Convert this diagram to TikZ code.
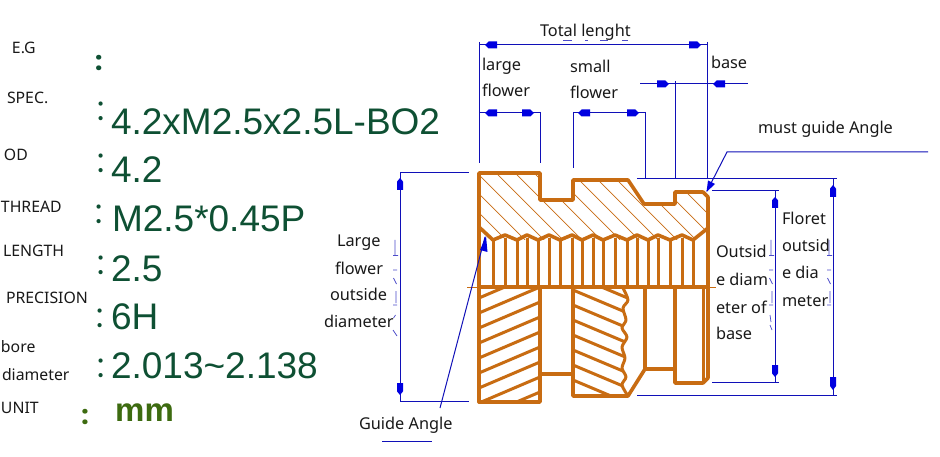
\documentclass[tikz,border=0pt]{standalone}
\usepackage{fontspec}
\setmainfont{Noto Sans}
\newfontfamily\arialf{Liberation Sans}
\newfontfamily\colf{Poppins}
\definecolor{brn}{HTML}{C86C12}
\definecolor{dimb}{HTML}{1010B8}
\definecolor{mrk}{HTML}{0000E0}
\definecolor{valg}{HTML}{0E5033}
\definecolor{unitg}{HTML}{3D6B10}
\newcommand\hmk[3]{\fill[mrk] (#1,#3) -- ({#1+0.3*(#2-#1)},#3-3.5) -- (#2,#3-3.5) -- (#2,#3+3.5) -- ({#1+0.3*(#2-#1)},#3+3.5) -- cycle;}
\newcommand\vmk[3]{\fill[mrk] (#3,#1) -- (#3-3,{#1+0.3*(#2-#1)}) -- (#3-3,#2) -- (#3+3,#2) -- (#3+3,{#1+0.3*(#2-#1)}) -- cycle;}
\tikzset{
  lbl/.style={anchor=base west,inner sep=0pt,outer sep=0pt,text=black!90,font=\fontsize{16.3}{17}\selectfont},
  sm/.style={lbl,font=\fontsize{15.8}{16}\selectfont},
  valt/.style={anchor=base west,inner sep=0pt,outer sep=0pt,text=valg,font=\arialf\fontsize{37}{38}\selectfont},
  coln/.style={anchor=base,inner sep=0pt,outer sep=0pt,text=valg,font=\colf\fontsize{34}{35}\selectfont},
  colb/.style={anchor=base,inner sep=0pt,outer sep=0pt,font=\colf\bfseries\fontsize{26}{27}\selectfont},
  dimline/.style={draw=dimb,line width=1pt},
  stray/.style={draw=dimb!75,line width=0.7pt},
  thick brn/.style={draw=brn,line width=3.6pt,line join=round,line cap=round},
  mid brn/.style={draw=brn,line width=3pt,line cap=butt},
  thin brn/.style={draw=brn,line width=0.7pt}
}
\begin{document}
\begin{tikzpicture}[x=1pt,y=-1pt]
\useasboundingbox[fill=white] (0,0) rectangle (940,457);
% left column labels
\node[sm] (eg) at (12,54) {E.G};
\node[sm] (spec) at (7,104) {SPEC.};
\node[sm] (od) at (4,161) {OD};
\node[sm] (thread) at (1,213) {THREAD};
\node[sm] (length) at (3,257) {LENGTH};
\node[sm] (prec) at (6,303) {PRECISION};
\node[sm] (bore1) at (1,352) {bore};
\node[sm] (bore2) at (2,380) {diameter};
\node[sm] (unit) at (1,413) {UNIT};
% colons
\node[colb,text=valg] (c0) at (98.7,71) {:};
\node[coln] (c1) at (100.7,121) {:};
\node[coln] (c2) at (100.7,173) {:};
\node[coln] (c3) at (99.2,224) {:};
\node[coln] (c4) at (100.7,274) {:};
\node[coln] (c5) at (100.2,327) {:};
\node[coln] (c6) at (101,377) {:};
\node[colb,text=unitg] (c7) at (85,424) {:};
% values
\node[valt] (v1) at (111,135) {4.2xM2.5x2.5L-BO2};
\node[valt] (v2) at (111,183) {4.2};
\node[valt] (v3) at (112,232) {M2.5*0.45P};
\node[valt] (v4) at (111,281) {2.5};
\node[valt] (v5) at (111,329) {6H};
\node[valt] (v6) at (111,378) {2.013\textasciitilde2.138};
\node[anchor=base west,inner sep=0pt,text=unitg,font=\arialf\bfseries\fontsize{33}{34}\selectfont] (v7) at (115,421) {mm};
% upper hatching
\begin{scope}
\clip (479,173) -- (540,173) -- (540,200) -- (573,200) -- (573,180) -- (628,180) -- (644,204) -- (675,204) -- (675,192) -- (703,192) -- (708,197) -- (708,228) -- (693,240) -- (493,240) -- (479,227) -- cycle;
\foreach \c in {247,266,...,532} {
  \draw[thin brn] ({\c+160},160) -- ({\c+260},260);
}
\end{scope}
% lower hatching, left
\begin{scope}
\clip (479,287) rectangle (540,402);
\foreach \k in {-1,...,8} {
  \draw[mid brn] (479,{298+15*\k}) -- (540,{298+15*\k-26});
}
\end{scope}
% lower hatching, right
\begin{scope}
\clip (573,287) -- (623,287) -- (628,300) -- (623,308) -- (626,320) -- (622,328) -- (627,337) -- (622,347) -- (625,358) -- (622,368) -- (626,377) -- (622,385) -- (628,396) -- (573,396) -- cycle;
\foreach \k in {-4,...,8} {
  \draw[mid brn] (573,{290+15*\k}) -- (630,{290+15*\k+24});
}
\end{scope}
% knurl bars
\foreach \x in {493,505,517,527,538,549,560,572,582,593,603,615,627,637,648,658,670,682,693} {
  \draw[mid brn] (\x,238) -- (\x,287);
}
% outline
\draw[thick brn] (479,402) -- (479,173) -- (540,173) -- (540,200) -- (573,200) -- (573,180) -- (628,180) -- (644,204) -- (675,204) -- (675,192) -- (703,192) -- (708,197) -- (708,378) -- (703,383) -- (675,383) -- (675,287);
\draw[thick brn] (479,227) -- (493,240) -- (505,235) -- (517,240) -- (527,235) -- (538,240) -- (549,235) -- (560,240) -- (572,235) -- (582,240) -- (593,235) -- (603,240) -- (615,235) -- (627,240) -- (637,235) -- (648,240) -- (658,235) -- (670,240) -- (682,235) -- (693,240) -- (708,228);
\draw[thick brn] (479,287) -- (708,287);
\draw[thin brn] (467,287) -- (716,287);
\draw[thick brn] (479,402) -- (540,402) -- (540,287);
\draw[thick brn] (540,374) -- (573,374);
\draw[thick brn] (573,287) -- (573,396) -- (628,396) -- (645,369) -- (645,287);
\draw[thick brn] (645,369) -- (675,369);
\draw[mid brn] (703,287) -- (703,383);
\draw[mid brn,line join=round] plot[smooth] coordinates {(623,288) (628,300) (623,308) (626,320) (622,328) (627,337) (622,347) (625,358) (622,368) (626,377) (622,385) (628,396)};
% dimensions
\draw[dimline] (479,42) -- (479,163);
\draw[dimline] (707,42) -- (707,179);
\draw[dimline] (479,45) -- (707,45);
\hmk{485}{497}{45}\hmk{701}{689}{45}
\draw[dimline] (479,113) -- (540,113);
\draw[dimline] (540,112) -- (540,163);
\hmk{485}{497}{113}\hmk{534}{522}{113}
\draw[dimline] (573,112) -- (573,168);
\draw[dimline] (645,112) -- (645,179);
\draw[dimline] (573,113) -- (645,113);
\hmk{578}{590}{113}\hmk{639}{627}{113}
\draw[dimline] (640,84) -- (748,84);
\draw[dimline] (675,81) -- (675,179);
\hmk{669}{657}{84}\hmk{713}{725}{84}
\draw[dimline] (637,179) -- (837,179);
\draw[dimline] (637,395) -- (837,395);
\draw[dimline] (833,179) -- (833,395);
\vmk{185}{197}{833}\vmk{390}{377}{833}
\draw[dimline] (712,191) -- (779,191);
\draw[dimline] (712,382) -- (779,382);
\draw[dimline] (775,191) -- (775,382);
\vmk{197}{208}{775}\vmk{377}{365}{775}
\draw[dimline] (400,173) -- (469,173);
\draw[dimline] (400,401) -- (469,401);
\draw[dimline] (400,173) -- (400,401);
\vmk{178}{190}{400}\vmk{395}{383}{400}
% leaders
\draw[dimline] (928,152) -- (727,152) -- (707,191);
\fill[mrk] (706.5,192) -- (708,180.5) -- (715,184) -- cycle;
\draw[dimline] (440,408) -- (485,237);
\fill[mrk] (486,236) -- (480,250) -- (487.5,252) -- cycle;
\draw[dimline] (382,441) -- (432,441);
% remnants beside the dimension lines
\foreach \xo in {0,376,434} {
  \begin{scope}[shift={(\xo,0)}]
    \draw[stray] (395,240) -- (395,255) (393,255.5) -- (398,255.5) (393,270) -- (397,270) (393.5,278) -- (396.5,284) (396,291) -- (396,303) (393,305) -- (397,305);
  \end{scope}
}
\draw[stray] (393.5,318) -- (395.5,315) (393,330) -- (397,336);
\draw[stray] (770,315) -- (771,322) (770,325) -- (772,330);
\draw[stray] (563,40) -- (572,40) (585,40) -- (588,40) (600,40) -- (608,40) (622,40) -- (628,40);
% labels on the drawing
\node[lbl] (total) at (540,37) {Total lenght};
\node[lbl] (lf1) at (482,71) {large};
\node[lbl] (lf2) at (482,97) {flower};
\node[lbl] (sf1) at (570,73) {small};
\node[lbl] (sf2) at (570,99) {flower};
\node[lbl] (bs) at (711,69) {base};
\node[lbl] (must) at (758,134) {must guide Angle};
\node[lbl] (la) at (337,247) {Large};
\node[lbl] (lb) at (335,274) {flower};
\node[lbl] (lc) at (330,301) {outside};
\node[lbl] (ld) at (324,327) {diameter};
\node[lbl] (guide) at (359,429) {Guide Angle};
\node[lbl] (oa) at (716,258) {Outsid};
\node[lbl] (ob) at (716,286) {e diam};
\node[lbl] (oc) at (716,313) {eter of};
\node[lbl] (od2) at (716,339) {base};
\node[lbl] (fa) at (782,225) {Floret};
\node[lbl] (fb) at (782,252) {outsid};
\node[lbl] (fc) at (782,279) {e dia};
\node[lbl] (fd) at (782,306) {meter};
\end{tikzpicture}
\end{document}
